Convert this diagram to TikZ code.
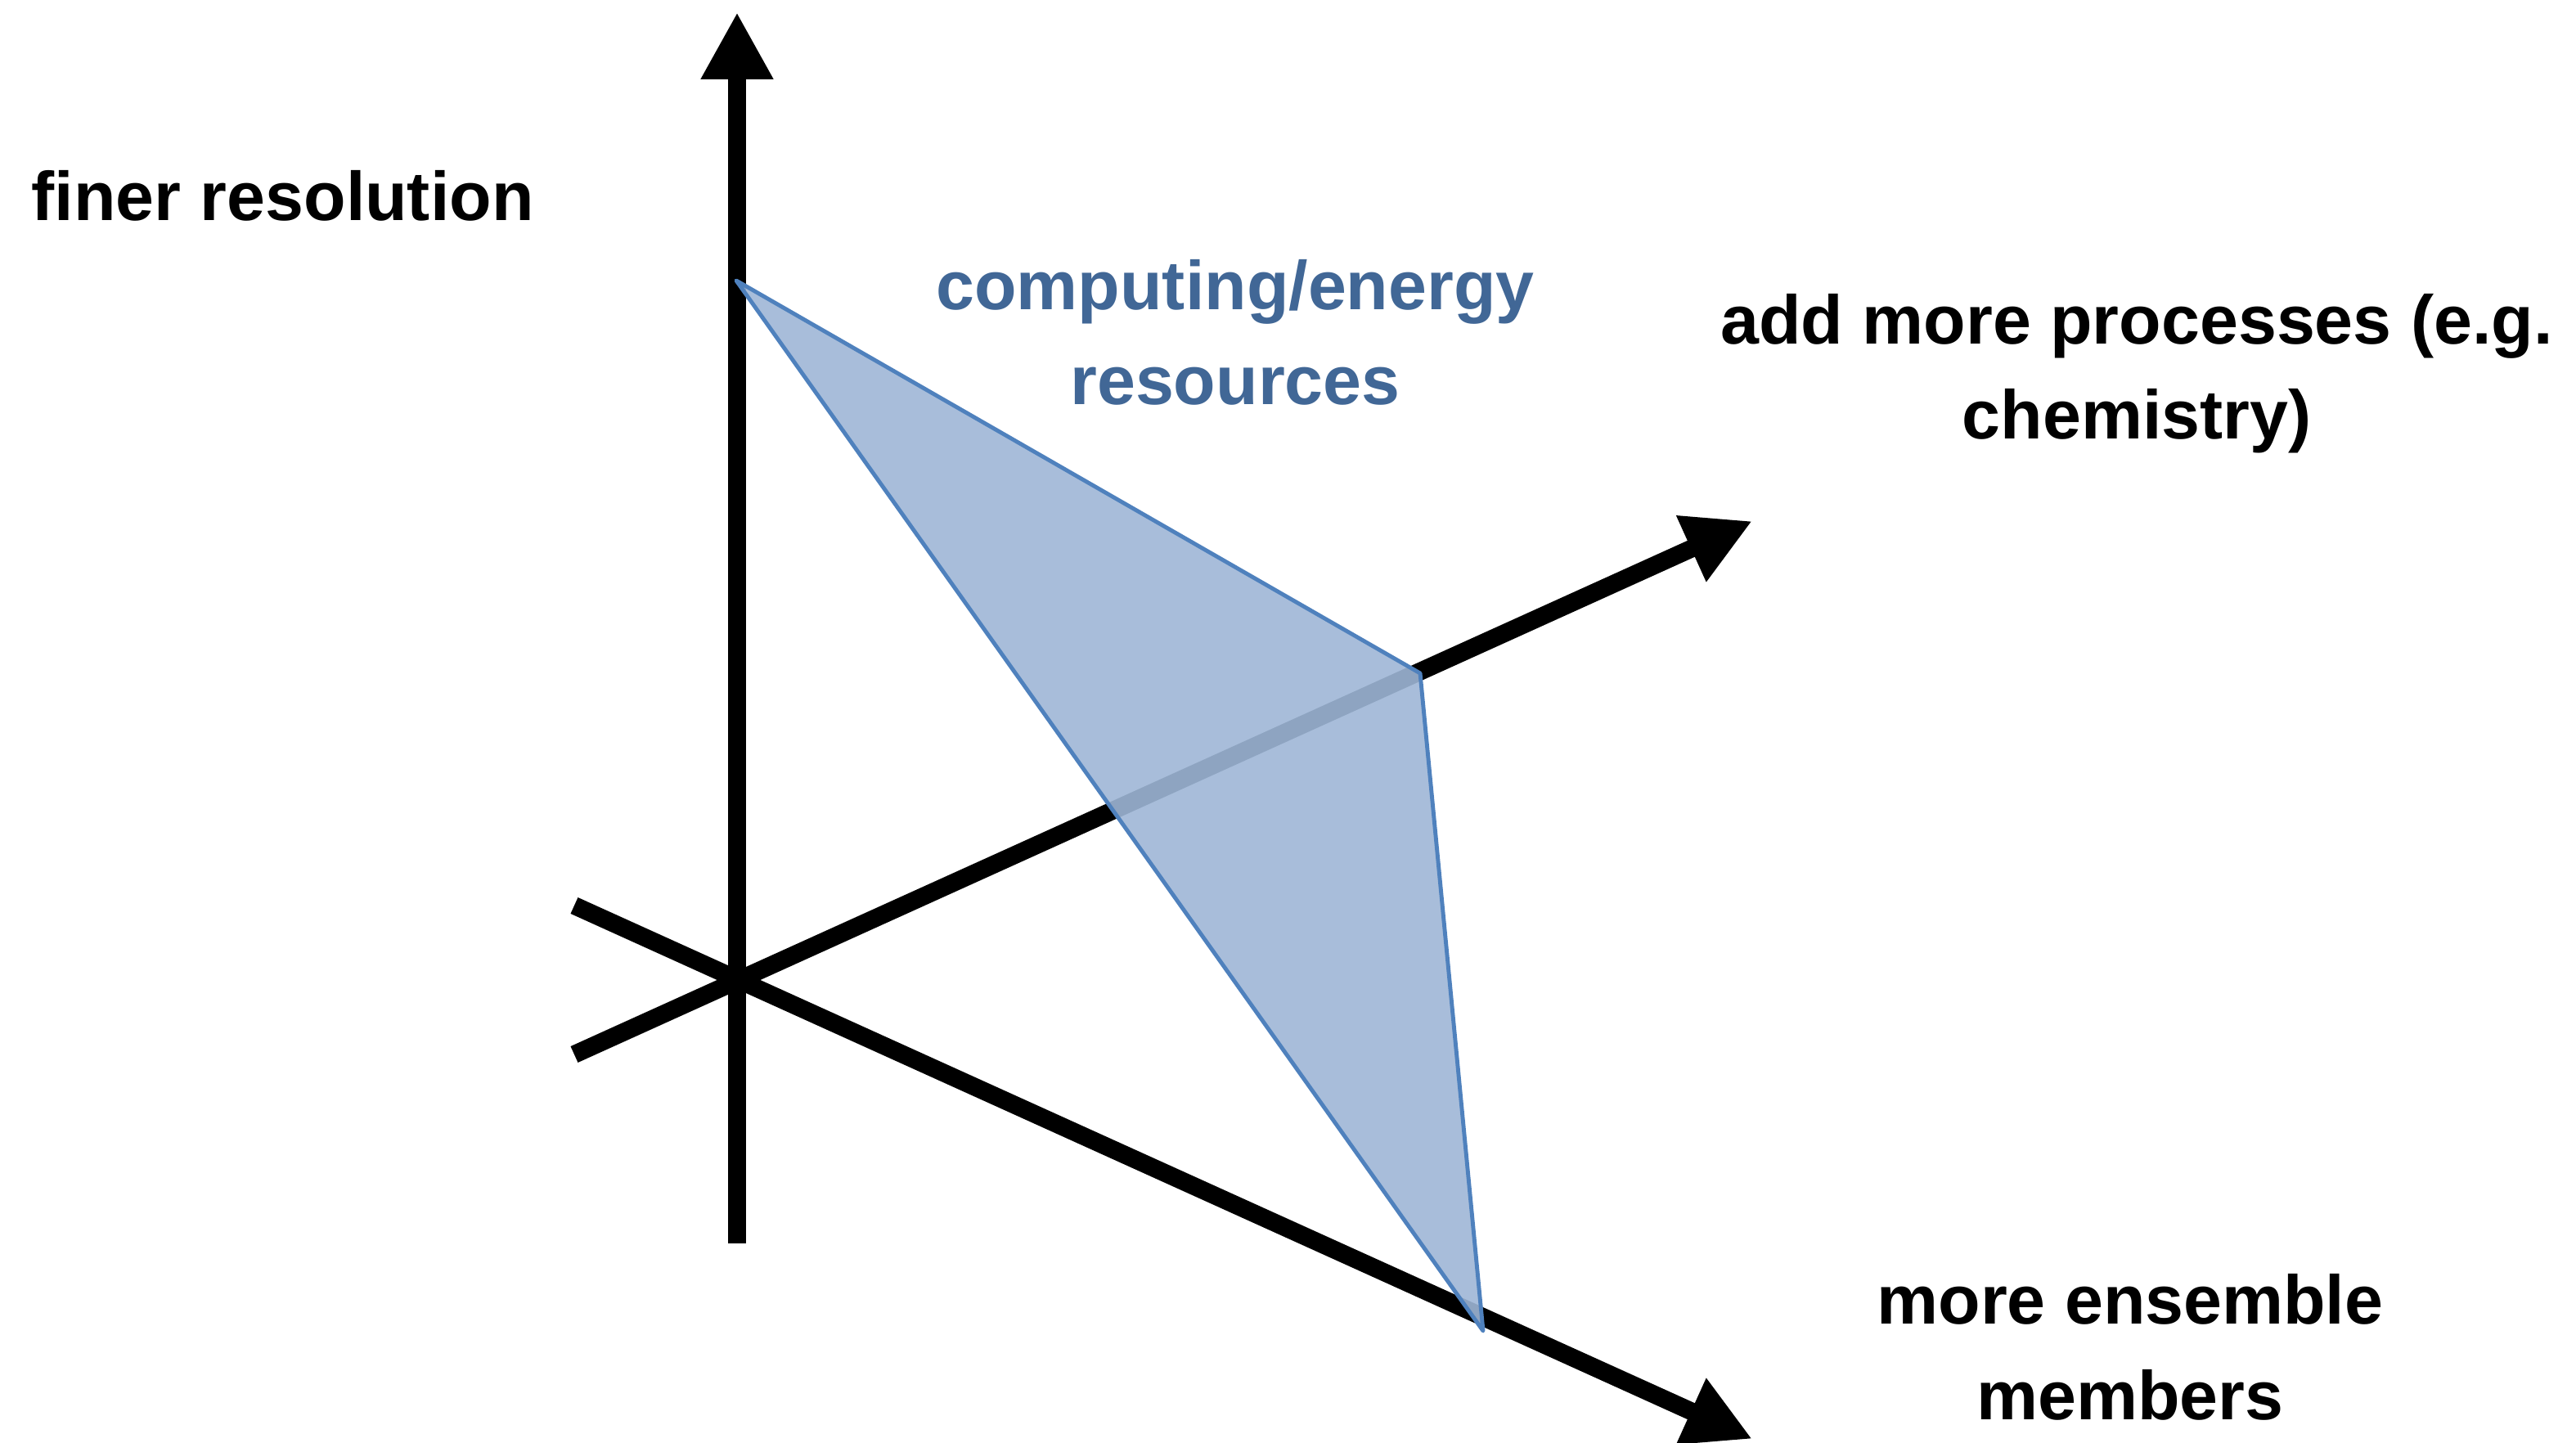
\documentclass[tikz,border=0pt]{standalone}
\usepackage{fontspec}
\setmainfont{Liberation Sans}
\usetikzlibrary{arrows.meta,positioning,calc}

\definecolor{planefill}{RGB}{158,182,214}
\definecolor{planeedge}{RGB}{79,129,189}
\definecolor{planetext}{RGB}{65,103,150}

\begin{document}
\begin{tikzpicture}[
    axis/.style={draw, black, line width=6.2pt, line cap=butt},
    axisarrow/.style={axis, -{Triangle[length=8.2mm, width=8.3mm]}},
    plane/.style={draw=planeedge, fill=planefill, fill opacity=0.9, line width=1.4pt, line join=round},
    label/.style={inner sep=0pt, align=center, font=\fontsize{24}{33.2}\selectfont\bfseries},
    planelabel/.style={label, text=planetext}
]
    \useasboundingbox (0,0) rectangle (31.49,17.63);

    % axes
    \coordinate (origin) at (9.01,5.65);
    \coordinate (resbot) at (9.01,2.43);
    \coordinate (restip) at (9.01,17.48);
    \coordinate (procstart) at (7.02,4.74);
    \coordinate (proctip) at (21.42,11.26);
    \coordinate (ensstart) at (7.02,6.56);
    \coordinate (enstip) at (21.42,0.04);

    \draw [axisarrow] (resbot) -- (restip);
    \draw [axisarrow] (procstart) -- (proctip);
    \draw [axisarrow] (ensstart) -- (enstip);

    % resource plane
    \coordinate (ptop) at (9.00,14.20);
    \coordinate (pright) at (17.36,9.40);
    \coordinate (pbot) at (18.13,1.36);
    \draw [plane] (ptop) -- (pright) -- (pbot) -- cycle;

    \node [label, anchor=base west] (finer) at (0.38,14.93) {finer resolution};
    \node [planelabel, anchor=base] (resources) at (15.10,12.68) {computing/energy\\resources};
    \node [label, anchor=base] (processes) at (26.12,12.26) {add more processes (e.g.\\chemistry)};
    \node [label, anchor=base] (ensemble) at (26.04,0.28) {more ensemble\\members};
\end{tikzpicture}
\end{document}
